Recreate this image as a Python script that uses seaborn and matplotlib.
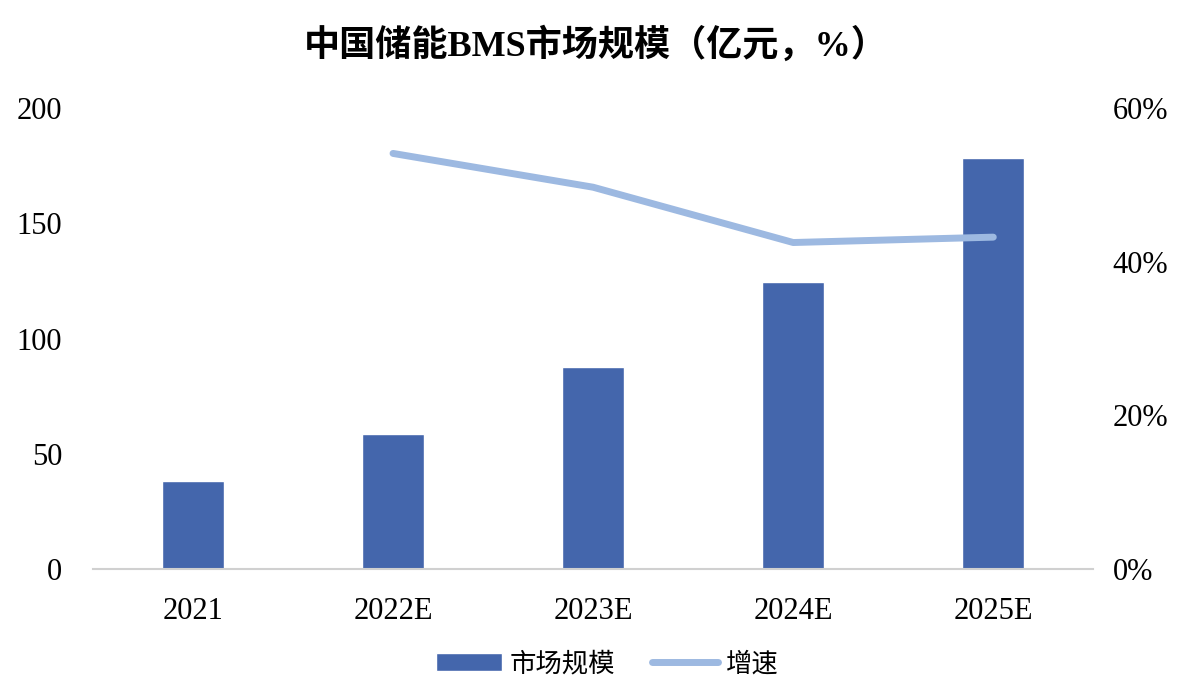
import matplotlib
matplotlib.use("Agg")
import matplotlib.pyplot as plt
import pandas as pd
import seaborn as sns
from matplotlib.ticker import FuncFormatter, MultipleLocator

sns.set_style("white")
plt.rcParams['font.family'] = ['Liberation Serif', 'Noto Sans CJK SC']
plt.rcParams['text.color'] = 'black'
plt.rcParams['xtick.color'] = 'black'
plt.rcParams['ytick.color'] = 'black'

years = ["2021", "2022E", "2023E", "2024E", "2025E"]
market_size = [38, 58.5, 87.5, 124.5, 178.5]  # 亿元
growth_years = ["2022E", "2023E", "2024E", "2025E"]
growth = [54.1, 49.7, 42.5, 43.2]  # %

bar_color = "#4466AC"
line_color = "#9DB9E1"

df = pd.DataFrame({"year": years, "size": market_size})

fig = plt.figure(figsize=(11.91, 6.93), dpi=100)
ax = fig.add_axes([0.078, 0.179, 0.840, 0.665])

sns.barplot(data=df, x="year", y="size", color=bar_color, width=0.31,
            saturation=1, ax=ax, label="市场规模")
if ax.get_legend():
    ax.get_legend().remove()
ax.set_ylim(0, 200)
ax.yaxis.set_major_locator(MultipleLocator(50))
ax.set_xlabel("")
ax.set_ylabel("")
ax.set_xlim(-0.5, len(years) - 0.5)

ax2 = ax.twinx()
gx = [years.index(y) for y in growth_years]
sns.lineplot(x=gx, y=growth, color=line_color, linewidth=5, ax=ax2,
             label="增速", legend=False, solid_capstyle="round")
ax2.set_ylim(0, 60)
ax2.yaxis.set_major_locator(MultipleLocator(20))
ax2.yaxis.set_major_formatter(FuncFormatter(lambda v, p: f"{v:.0f}%"))
ax2.set_xlim(-0.5, len(years) - 0.5)

for a in (ax, ax2):
    for s in a.spines.values():
        s.set_visible(False)
    a.tick_params(length=0, labelsize=22, colors="black")
ax.spines["bottom"].set_visible(True)
ax.spines["bottom"].set_color("#D0D0D0")
ax.spines["bottom"].set_linewidth(1.5)
ax.tick_params(axis="y", pad=22)
ax.tick_params(axis="x", pad=20)
ax2.tick_params(axis="y", pad=14)

fig.suptitle("中国储能BMS市场规模（亿元，%）", fontsize=26, fontweight="bold", y=0.96)

h1, l1 = ax.get_legend_handles_labels()
h2, l2 = ax2.get_legend_handles_labels()
fig.legend(h1 + h2, l1 + l2, loc="lower center", ncol=2, frameon=False,
           fontsize=19, bbox_to_anchor=(0.51, -0.01), handlelength=2.5,
           columnspacing=1.4, handletextpad=0.3)

fig.savefig("out.png", dpi=100)
